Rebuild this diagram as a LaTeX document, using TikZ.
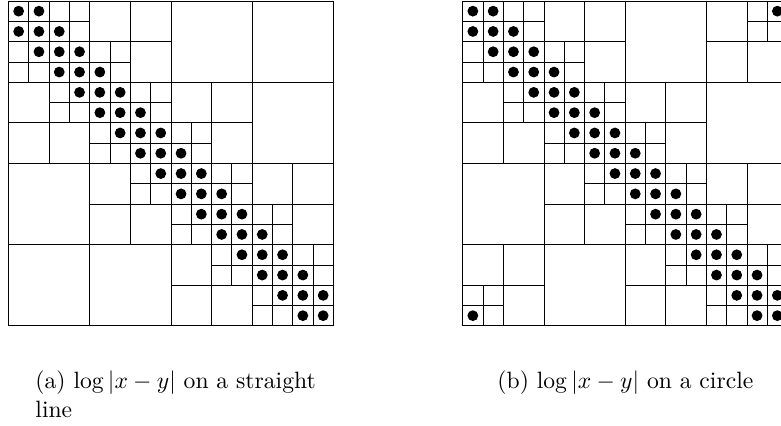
\RequirePackage{fix-cm}
\documentclass[tikz,border=0pt]{standalone}
\tikzset{
  hline/.style={line width=0.8bp, draw=black},
  dotfill/.style={fill=black},
  captext/.style={inner sep=0pt, anchor=base west, font=\fontsize{10pt}{12pt}\selectfont, scale=2.37},
}
\newcommand{\cellsz}{20.3}
\begin{document}
\begin{tikzpicture}[x=1bp,y=-1bp]
\useasboundingbox (0,0) rectangle (781,425);
\clip (0,0) rectangle (781,425);
% (a) straight line
\begin{scope}[shift={(8.5,1)}]
  \foreach \i in {0,...,3}{\foreach \j in {0,...,3}{
    \draw[hline] ({\j*4*\cellsz},{\i*4*\cellsz}) rectangle ++({4*\cellsz},{4*\cellsz});}}
  \foreach \a in {0,...,7}{\foreach \b in {0,...,7}{
    \pgfmathtruncatemacro\dd{abs(floor(\a/2)-floor(\b/2))}
    \ifnum\dd<2 \draw[hline] ({\b*2*\cellsz},{\a*2*\cellsz}) rectangle ++({2*\cellsz},{2*\cellsz}); \fi
  }}
  \foreach \r in {0,...,15}{\foreach \c in {0,...,15}{
    \pgfmathtruncatemacro\dd{abs(floor(\r/2)-floor(\c/2))}
    \ifnum\dd<2 \draw[hline] ({\c*\cellsz},{\r*\cellsz}) rectangle ++(\cellsz,\cellsz); \fi
    \pgfmathtruncatemacro\ee{abs(\r-\c)}
    \ifnum\ee<2 \fill[dotfill] ({(\c+0.5)*\cellsz},{(\r+0.5)*\cellsz}) circle[radius=5.4]; \fi
  }}
\end{scope}
% (b) circle
\begin{scope}[shift={(462.7,1)}]
  \foreach \i in {0,...,3}{\foreach \j in {0,...,3}{
    \draw[hline] ({\j*4*\cellsz},{\i*4*\cellsz}) rectangle ++({4*\cellsz},{4*\cellsz});}}
  \foreach \a in {0,...,7}{\foreach \b in {0,...,7}{
    \pgfmathtruncatemacro\dd{min(abs(floor(\a/2)-floor(\b/2)),4-abs(floor(\a/2)-floor(\b/2)))}
    \ifnum\dd<2 \draw[hline] ({\b*2*\cellsz},{\a*2*\cellsz}) rectangle ++({2*\cellsz},{2*\cellsz}); \fi
  }}
  \foreach \r in {0,...,15}{\foreach \c in {0,...,15}{
    \pgfmathtruncatemacro\dd{min(abs(floor(\r/2)-floor(\c/2)),8-abs(floor(\r/2)-floor(\c/2)))}
    \ifnum\dd<2 \draw[hline] ({\c*\cellsz},{\r*\cellsz}) rectangle ++(\cellsz,\cellsz); \fi
    \pgfmathtruncatemacro\ee{min(abs(\r-\c),16-abs(\r-\c))}
    \ifnum\ee<2 \fill[dotfill] ({(\c+0.5)*\cellsz},{(\r+0.5)*\cellsz}) circle[radius=5.4]; \fi
  }}
\end{scope}
% captions
\node[captext] (capa1) at (35,388) {(a) $\log|x-y|$ on a straight};
\node[captext] (capa2) at (35,417) {line};
\node[captext] (capb) at (497,388) {(b) $\log|x-y|$ on a circle};
\end{tikzpicture}
\end{document}
